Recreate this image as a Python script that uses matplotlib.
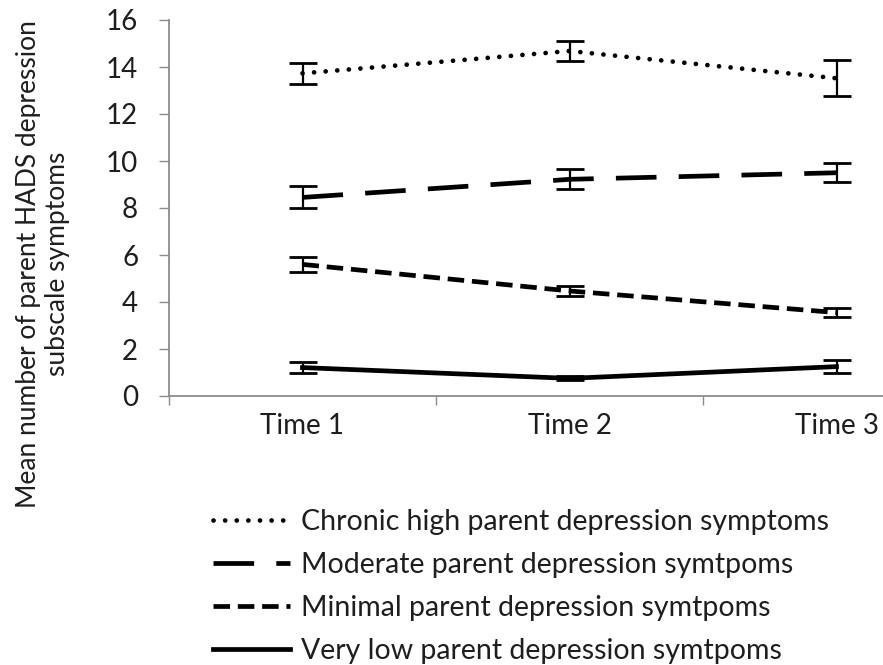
import matplotlib.pyplot as plt

plt.rcParams['font.family'] = ['Lato', 'DejaVu Sans']

# mean HADS depression scores per trajectory group, with error bar half-widths
times = ['Time 1', 'Time 2', 'Time 3']
chronic_high = [13.73, 14.68, 13.52]
chronic_high_err = [0.45, 0.43, 0.77]
moderate = [8.45, 9.22, 9.50]
moderate_err = [0.47, 0.43, 0.41]
minimal = [5.60, 4.47, 3.55]
minimal_err = [0.31, 0.22, 0.20]
very_low = [1.21, 0.75, 1.25]
very_low_err = [0.22, 0.08, 0.27]

labels = ['Chronic high parent depression symptoms',
          'Moderate parent depression symtpoms',
          'Minimal parent depression symtpoms',
          'Very low parent depression symtpoms']

W, H = 883, 665
fig = plt.figure(figsize=(W / 100, H / 100), dpi=100)
# plot area runs past the right edge of the figure
ax = fig.add_axes([169 / W, 269 / H, 801 / W, 376 / H])

xs = [i + 0.5 for i in range(len(times))]
series = [
    (chronic_high, chronic_high_err, dict(lw=3.4, linestyle=(0, (0.01, 2.45)), dash_capstyle='round')),
    (moderate, moderate_err, dict(lw=3.4, linestyle=(0, (8.6, 4.7)))),
    (minimal, minimal_err, dict(lw=3.4, linestyle=(0, (3.5, 1.65)))),
    (very_low, very_low_err, dict(lw=3.4, linestyle='-')),
]

handles = []
for (vals, err, style), lab in zip(series, labels):
    line, = ax.plot(xs, vals, color='black', label=lab, **style)
    ax.errorbar(xs, vals, yerr=err, fmt='none', ecolor='black',
                elinewidth=1.6, capsize=10, capthick=2)
    handles.append(line)

axis_grey = '#8c8c8c'
text_col = '#1e1e1e'
ax.set_xlim(0, 3)
ax.set_ylim(0, 16)
ax.set_yticks(range(0, 17, 2))
ax.set_xticks(xs)
ax.set_xticklabels(times)
ax.set_xticks([0, 1, 2, 3], minor=True)
ax.tick_params(axis='x', which='major', length=0, pad=12, labelsize=20, labelcolor=text_col)
ax.tick_params(axis='x', which='minor', length=6.5, width=1, color=axis_grey, direction='out')
ax.tick_params(axis='y', length=7.2, width=1, color=axis_grey, direction='out',
               labelsize=20, labelcolor=text_col, pad=15)
for side in ['top', 'right']:
    ax.spines[side].set_visible(False)
for side in ['left', 'bottom']:
    ax.spines[side].set_color(axis_grey)
    ax.spines[side].set_linewidth(1.3)

fig.text(43 / W, 1 - 264 / H, 'Mean number of parent HADS depression\nsubscale symptoms',
         rotation=90, ha='center', va='center', fontsize=19, color=text_col,
         linespacing=1.15, multialignment='center')

fig.legend(handles=handles, loc='upper left', bbox_to_anchor=(213 / W, 1 - 509 / H),
           frameon=False, fontsize=20.5, handlelength=2.7, handletextpad=0.4,
           labelspacing=0.6, borderpad=0, borderaxespad=0, labelcolor=text_col)

fig.savefig('out.png', dpi=100)
